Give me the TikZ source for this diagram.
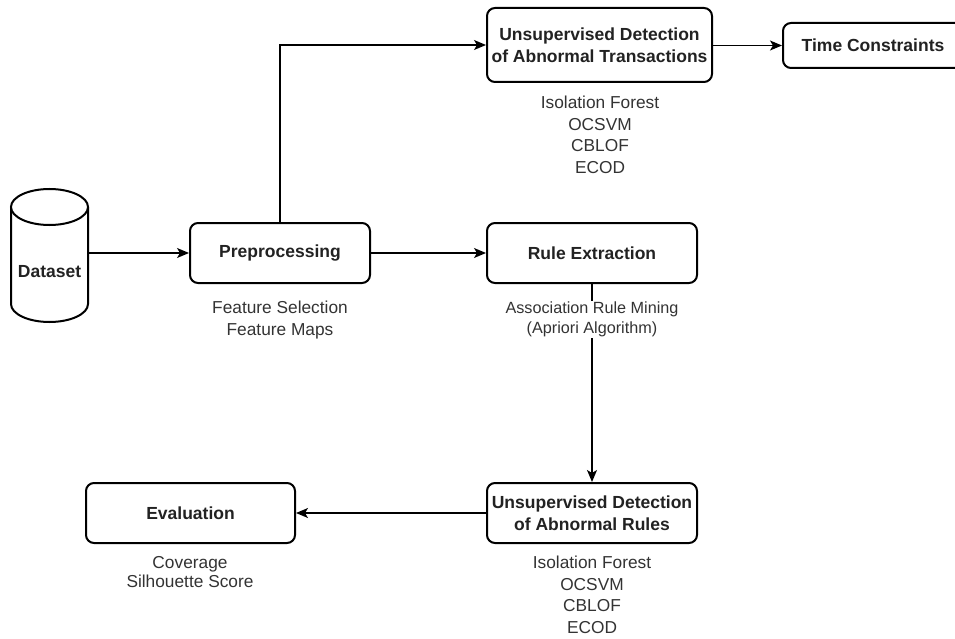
\documentclass[tikz,border=0pt]{standalone}
\usepackage{fontspec}
\setmainfont{Liberation Sans}
\usetikzlibrary{arrows.meta}
\definecolor{txt}{HTML}{222222}
\definecolor{lbl}{HTML}{333333}
\tikzset{
  procbox/.style={draw=black, line width=2pt, rounded corners=8pt, fill=white,
    align=center, text=txt, font=\bfseries\fontsize{17.5}{22}\selectfont, inner sep=0pt},
  lbltext/.style={align=center, text=lbl, font=\fontsize{17.3}{22}\selectfont, inner sep=1pt},
  conn/.style={draw=black, line width=1.3pt, -{Stealth[length=12pt,width=10pt,inset=3pt]}},
}
\begin{document}
\begin{tikzpicture}[x=1pt,y=1pt]
\useasboundingbox (0,0) rectangle (955,-639);
% Dataset cylinder
\node[minimum width=77pt, minimum height=129pt, inner sep=0pt] (ds) at (49.5,-257.5) {};
\draw[line width=2pt, fill=white] (11,-207) -- (11,-304)
  arc[start angle=180, end angle=360, x radius=38.5pt, y radius=18pt] -- (88,-207);
\draw[line width=2pt, fill=white] (49.5,-207) ellipse[x radius=38.5pt, y radius=18pt];
\node[text=txt, font=\bfseries\fontsize{17.5}{22}\selectfont, inner sep=0pt] (dstext) at (49.5,-272) {Dataset};
% process boxes
\node[procbox, minimum width=180pt, minimum height=60pt] (pre) at (280,-253) {Preprocessing};
\node[procbox, minimum width=225pt, minimum height=74pt] (ut) at (599.5,-45) {Unsupervised Detection\\of Abnormal Transactions};
\node[procbox, minimum width=180pt, minimum height=45pt] (tc) at (873,-45.5) {Time Constraints};
\node[procbox, minimum width=210pt, minimum height=60pt] (re) at (592,-253) {Rule Extraction};
\node[procbox, minimum width=210pt, minimum height=60pt] (ur) at (592,-513) {Unsupervised Detection\\of Abnormal Rules};
\node[procbox, minimum width=209pt, minimum height=60pt] (ev) at (190.5,-513) {Evaluation};
% connectors
\draw[conn] (ds.east |- pre.west) -- (pre.west);
\draw[conn] (pre.north) |- (ut.west);
\draw[conn] (pre.east) -- (re.west);
\draw[conn] (ut.east |- tc.west) -- (tc.west);
\draw[conn] (re.south) -- (ur.north);
\draw[conn] (ur.west) -- (ev.east);
% labels
\node[lbltext] (prel) at (280,-320.5) {Feature Selection\\Feature Maps};
\node[lbltext, font=\fontsize{17.3}{21.5}\selectfont] (utl) at (600,-135) {Isolation Forest\\OCSVM\\CBLOF\\ECOD};
\node[lbltext, fill=white, font=\fontsize{16.2}{19.5}\selectfont] (rel) at (592,-319.5) {Association Rule Mining\\(Apriori Algorithm)};
\node[lbltext, font=\fontsize{17.3}{21.5}\selectfont] (url) at (592,-595) {Isolation Forest\\OCSVM\\CBLOF\\ECOD};
\node[lbltext, font=\fontsize{17.3}{19}\selectfont] (evl) at (190,-572) {Coverage\\Silhouette Score};
\end{tikzpicture}
\end{document}
